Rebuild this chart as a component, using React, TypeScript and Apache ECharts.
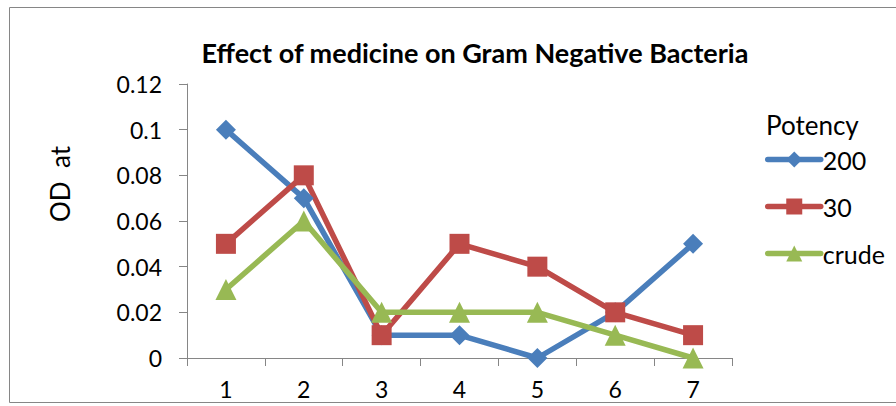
import React, { useEffect, useRef } from "react";
import * as echarts from "echarts";

const categories = ["1", "2", "3", "4", "5", "6", "7"];
const s200 = [0.1, 0.07, 0.01, 0.01, 0, 0.02, 0.05];
const s30 = [0.05, 0.08, 0.01, 0.05, 0.04, 0.02, 0.01];
const sCrude = [0.03, 0.06, 0.02, 0.02, 0.02, 0.01, 0];
const seriesNames = ["200", "30", "crude"];
const yAxisName = "OD\u00a0\u00a0at";

const FONT = "Lato, 'Open Sans', sans-serif";

export default function App() {
  const ref = useRef<HTMLDivElement>(null);
  useEffect(() => {
    document.body.style.margin = "0";
    const chart = echarts.init(ref.current!, null, { renderer: "svg" });
    const axisColor = "#868686";
    chart.setOption({
      animation: false,
      backgroundColor: "#fff",
      title: {
        text: "Effect of medicine on Gram Negative Bacteria",
        left: 470,
        textAlign: "center",
        top: 34,
        textStyle: { fontFamily: FONT, fontWeight: "bold", fontSize: 27, color: "#000" },
      },
      graphic: [
        {
          type: "rect",
          shape: { x: 9.5, y: 7.5, width: 900, height: 395 },
          style: { fill: "none", stroke: axisColor, lineWidth: 1 },
          silent: true,
        },
        {
          type: "text",
          left: 766,
          top: 112,
          style: { text: "Potency", fontFamily: FONT, fontSize: 26, fill: "#000" },
        },
        {
          type: "text",
          x: 60,
          y: 184,
          rotation: Math.PI / 2,
          style: {
            text: yAxisName,
            fontFamily: FONT,
            fontSize: 26,
            fill: "#000",
            align: "center",
            verticalAlign: "middle",
          },
        },
      ],
      legend: {
        orient: "vertical",
        left: 760,
        top: 142,
        itemWidth: 53,
        itemHeight: 20,
        itemGap: 22,
        data: seriesNames,
        lineStyle: { width: 5.5, cap: "round" },
        textStyle: { fontFamily: FONT, fontSize: 25, color: "#000", padding: [0, 0, 0, -3] },
      },
      grid: { left: 187, right: 164, top: 84, bottom: 48, containLabel: false },
      xAxis: {
        type: "category",
        data: categories,
        boundaryGap: true,
        axisLine: { lineStyle: { color: axisColor, width: 1 } },
        axisTick: { show: true, length: 8, lineStyle: { color: axisColor } },
        axisLabel: { fontFamily: FONT, fontSize: 23, color: "#000", margin: 19 },
        splitLine: { show: false },
      },
      yAxis: {
        type: "value",
        min: 0,
        max: 0.12,
        interval: 0.02,
        axisLine: { show: true, lineStyle: { color: axisColor, width: 1 } },
        axisTick: { show: true, length: 8, lineStyle: { color: axisColor } },
        axisLabel: {
          fontFamily: FONT,
          fontSize: 23,
          color: "#000",
          margin: 25,
          formatter: (v: number) => String(Math.round(v * 100) / 100),
        },
        splitLine: { show: false },
      },
      series: [
        {
          name: seriesNames[0],
          type: "line",
          data: s200,
          symbol: "diamond",
          symbolSize: 20,
          itemStyle: { color: "#4A7EBB" },
          lineStyle: { width: 5.5, color: "#4A7EBB", cap: "round" },
        },
        {
          name: seriesNames[1],
          type: "line",
          data: s30,
          symbol: "rect",
          symbolSize: 20,
          itemStyle: { color: "#BE4B48" },
          lineStyle: { width: 5.5, color: "#BE4B48", cap: "round" },
        },
        {
          name: seriesNames[2],
          type: "line",
          data: sCrude,
          symbol: "triangle",
          symbolSize: 21,
          itemStyle: { color: "#98B954" },
          lineStyle: { width: 5.5, color: "#98B954", cap: "round" },
        },
      ],
    });
    return () => chart.dispose();
  }, []);
  return <div ref={ref} style={{ position: "absolute", left: 0, top: 0, width: 896, height: 406 }} />;
}
